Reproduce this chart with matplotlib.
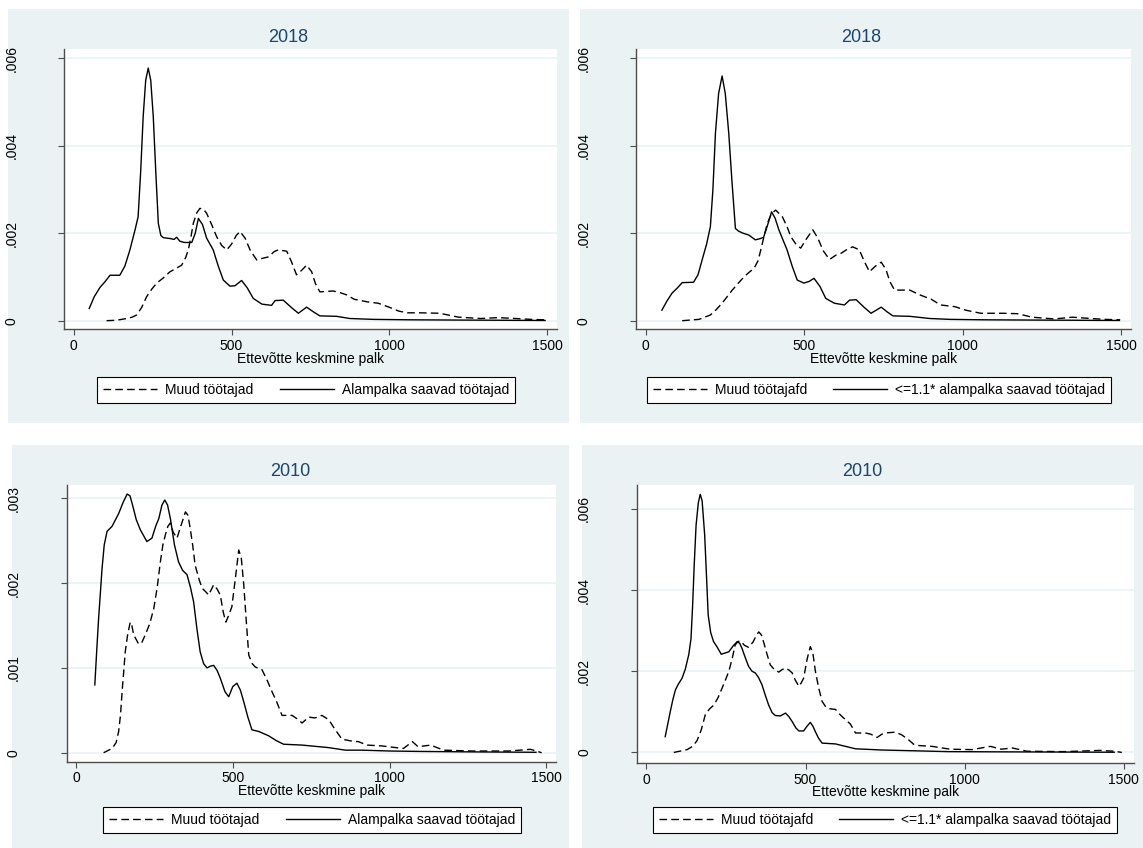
import numpy as np
import matplotlib
matplotlib.use("Agg")
import matplotlib.pyplot as plt
from matplotlib.patches import Rectangle

plt.rcParams['font.family'] = ['Liberation Sans', 'DejaVu Sans']

# Kernel density curves (y in units of 1e-3)
# 2018, minimum wage earners vs others
tl_solid_x = [49, 65, 83, 100, 115, 146, 162, 178, 195, 204, 212, 220, 228, 236, 244, 252, 260, 268, 276, 284,
              305, 318, 326, 336, 350, 374, 385, 395, 408, 421, 442, 458, 474, 495, 511, 532, 550, 569, 596, 627,
              638, 664, 690, 712, 738, 760, 780, 833, 875, 950, 1068, 1200, 1350, 1494]
tl_solid_y = [0.28, 0.55, 0.76, 0.9, 1.04, 1.04, 1.25, 1.62, 2.1, 2.38, 3.4, 4.67, 5.5, 5.78, 5.5, 4.67, 3.4, 2.23, 1.95, 1.9,
              1.88, 1.86, 1.91, 1.82, 1.79, 1.79, 2.0, 2.34, 2.2, 1.89, 1.62, 1.25, 0.93, 0.79, 0.8, 0.92, 0.75, 0.51, 0.38, 0.35,
              0.46, 0.47, 0.3, 0.17, 0.31, 0.2, 0.11, 0.1, 0.05, 0.03, 0.02, 0.015, 0.01, 0.005]
tl_dash_x = [104, 135, 168, 185, 199, 215, 231, 247, 263, 284, 305, 325, 342, 355, 363, 371, 379, 390, 400, 411,
             421, 437, 453, 469, 485, 500, 515, 527, 543, 560, 580, 600, 617, 635, 648, 675, 690, 706, 722, 738,
             754, 766, 780, 800, 822, 845, 865, 889, 931, 965, 999, 1030, 1057, 1100, 1160, 1220, 1290, 1345, 1400, 1450, 1494]
tl_dash_y = [0, 0.01, 0.05, 0.08, 0.13, 0.3, 0.55, 0.72, 0.86, 0.98, 1.12, 1.2, 1.27, 1.45, 1.62, 1.9, 2.23, 2.47, 2.57, 2.55,
             2.46, 2.2, 1.92, 1.72, 1.62, 1.75, 1.95, 2.04, 1.89, 1.6, 1.39, 1.43, 1.46, 1.58, 1.62, 1.59, 1.35, 1.05, 1.15, 1.27,
             1.12, 0.85, 0.66, 0.67, 0.68, 0.64, 0.59, 0.49, 0.43, 0.40, 0.31, 0.22, 0.18, 0.18, 0.17, 0.08, 0.05, 0.07, 0.05, 0.03, 0.02]

# 2018, <=1.1 * minimum wage
tr_solid_x = [51, 67, 83, 100, 115, 151, 165, 178, 192, 204, 212, 220, 230, 241, 251, 262, 272, 283, 293, 304,
              325, 346, 362, 372, 385, 397, 408, 420, 446, 462, 478, 499, 516, 531, 550, 568, 595, 627, 643, 664,
              690, 711, 743, 762, 780, 833, 896, 960, 1070, 1200, 1350, 1494]
tr_solid_y = [0.24, 0.45, 0.63, 0.75, 0.87, 0.88, 1.05, 1.39, 1.75, 2.15, 3.0, 4.29, 5.2, 5.6, 5.2, 4.29, 3.2, 2.11, 2.05, 2.01,
              1.96, 1.85, 1.88, 1.91, 2.2, 2.49, 2.35, 2.08, 1.62, 1.25, 0.93, 0.86, 0.9, 0.97, 0.78, 0.51, 0.40, 0.36, 0.47, 0.48,
              0.3, 0.17, 0.31, 0.2, 0.11, 0.1, 0.05, 0.03, 0.02, 0.015, 0.01, 0.005]
tr_dash_x = [115, 168, 204, 222, 241, 257, 273, 291, 310, 325, 342, 355, 363, 374, 384, 397, 410, 431, 446, 458,
             474, 489, 505, 527, 543, 560, 580, 600, 616, 635, 653, 674, 690, 706, 725, 743, 758, 770, 785, 833,
             865, 901, 930, 976, 1010, 1057, 1126, 1173, 1219, 1289, 1346, 1404, 1450, 1497]
tr_dash_y = [0, 0.03, 0.13, 0.25, 0.4, 0.55, 0.7, 0.85, 1.0, 1.1, 1.2, 1.38, 1.62, 1.95, 2.23, 2.45, 2.53, 2.38, 2.15, 1.92,
             1.75, 1.66, 1.85, 2.08, 1.89, 1.6, 1.4, 1.5, 1.54, 1.63, 1.69, 1.62, 1.35, 1.12, 1.25, 1.34, 1.17, 0.9, 0.7, 0.7,
             0.59, 0.49, 0.36, 0.32, 0.24, 0.17, 0.17, 0.16, 0.08, 0.04, 0.08, 0.05, 0.03, 0.02]

# 2010, minimum wage earners vs others
bl_solid_x = [60, 66, 72, 78, 83, 90, 99, 115, 136, 150, 163, 172, 179, 192, 205, 226, 242, 255, 264, 274,
              283, 292, 301, 314, 327, 340, 354, 365, 375, 386, 396, 407, 418, 428, 439, 450, 460, 475, 487, 500,
              513, 524, 535, 548, 561, 583, 614, 640, 662, 721, 806, 859, 912, 1000, 1100, 1250, 1467]
bl_solid_y = [0.8, 1.2, 1.58, 1.9, 2.17, 2.45, 2.61, 2.67, 2.82, 2.95, 3.05, 3.03, 2.94, 2.75, 2.63, 2.49, 2.53, 2.68, 2.76, 2.92,
              2.98, 2.92, 2.76, 2.45, 2.25, 2.15, 2.1, 1.95, 1.78, 1.45, 1.19, 1.05, 1.0, 1.02, 1.03, 0.97, 0.88, 0.72, 0.66, 0.78,
              0.82, 0.74, 0.6, 0.42, 0.27, 0.25, 0.2, 0.14, 0.1, 0.09, 0.06, 0.03, 0.03, 0.02, 0.015, 0.01, 0.005]
bl_dash_x = [88, 115, 128, 136, 142, 147, 152, 157, 165, 173, 178, 184, 200, 210, 221, 235, 248, 259, 269, 277,
             285, 293, 301, 310, 322, 335, 349, 357, 364, 372, 380, 392, 402, 413, 423, 431, 439, 450, 460, 470,
             478, 489, 497, 508, 519, 527, 535, 543, 551, 562, 572, 593, 610, 625, 640, 657, 689, 705, 721, 742,
             762, 784, 806, 825, 848, 875, 901, 928, 975, 1020, 1044, 1073, 1091, 1131, 1172, 1265, 1380, 1450, 1485]
bl_dash_y = [0, 0.05, 0.12, 0.25, 0.45, 0.72, 0.95, 1.19, 1.4, 1.54, 1.5, 1.39, 1.28, 1.3, 1.39, 1.52, 1.7, 1.95, 2.25, 2.45,
             2.57, 2.67, 2.71, 2.6, 2.53, 2.68, 2.84, 2.8, 2.65, 2.45, 2.21, 2.05, 1.94, 1.9, 1.86, 1.92, 1.98, 1.93, 1.86, 1.65,
             1.54, 1.64, 1.72, 2.05, 2.39, 2.3, 1.98, 1.55, 1.15, 1.05, 1.01, 0.98, 0.85, 0.72, 0.6, 0.44, 0.44, 0.4, 0.35, 0.42,
             0.41, 0.44, 0.39, 0.28, 0.16, 0.14, 0.13, 0.09, 0.08, 0.06, 0.05, 0.13, 0.07, 0.09, 0.03, 0.02, 0.02, 0.04, 0.0]

# 2010, <=1.1 * minimum wage
br_solid_x = [59, 67, 75, 83, 91, 100, 112, 122, 133, 140, 145, 150, 156, 163, 169, 175, 183, 189, 194, 202,
              211, 222, 235, 247, 259, 272, 285, 293, 300, 310, 321, 332, 342, 352, 363, 374, 384, 395, 405, 421,
              437, 448, 458, 470, 479, 494, 505, 515, 523, 531, 541, 552, 594, 636, 657, 740, 845, 950, 1100, 1300, 1470]
br_solid_y = [0.39, 0.7, 1.01, 1.3, 1.54, 1.68, 1.83, 2.05, 2.41, 2.8, 3.6, 4.6, 5.6, 6.15, 6.36, 6.2, 5.36, 4.3, 3.39, 2.95,
              2.73, 2.6, 2.42, 2.45, 2.48, 2.62, 2.73, 2.69, 2.57, 2.35, 2.12, 2.0, 1.96, 1.85, 1.67, 1.4, 1.17, 0.98, 0.91, 0.9,
              0.97, 0.88, 0.76, 0.6, 0.53, 0.53, 0.65, 0.74, 0.65, 0.51, 0.35, 0.23, 0.21, 0.13, 0.09, 0.06, 0.04, 0.02, 0.015, 0.01, 0.005]
br_dash_x = [86, 128, 145, 159, 172, 185, 198, 212, 225, 238, 249, 259, 269, 279, 287, 295, 308, 321, 335, 345,
             353, 361, 369, 379, 389, 402, 416, 426, 437, 448, 458, 468, 479, 487, 494, 505, 515, 523, 531, 541,
             552, 562, 573, 594, 610, 625, 641, 657, 688, 705, 725, 740, 751, 782, 803, 824, 840, 856, 898, 954,
             1023, 1081, 1115, 1150, 1196, 1310, 1425, 1471, 1494]
br_dash_y = [0, 0.07, 0.15, 0.29, 0.55, 0.93, 1.07, 1.17, 1.35, 1.59, 1.8, 2.0, 2.3, 2.65, 2.73, 2.75, 2.64, 2.59, 2.72, 2.88,
             2.97, 2.9, 2.7, 2.42, 2.16, 2.04, 1.98, 2.04, 2.08, 2.03, 1.96, 1.78, 1.63, 1.72, 1.83, 2.3, 2.61, 2.45, 2.0, 1.6,
             1.26, 1.14, 1.08, 1.06, 0.92, 0.81, 0.7, 0.48, 0.48, 0.45, 0.37, 0.45, 0.48, 0.5, 0.43, 0.31, 0.2, 0.17, 0.15, 0.08,
             0.07, 0.15, 0.08, 0.11, 0.03, 0.02, 0.05, 0.03, 0.0]

x_ticks = [0, 500, 1000, 1500]
xlabel = "Ettevõtte keskmine palk"
titles = ["2018", "2018", "2010", "2010"]
labels_a = ["Muud töötajad", "Alampalka saavad töötajad"]
labels_b = ["Muud töötajafd", "<=1.1* alampalka saavad töötajad"]
yticks_small = [0, 0.002, 0.004, 0.006]
ytick_lbl_small = ["0", ".002", ".004", ".006"]
yticks_big = [0, 0.001, 0.002, 0.003]
ytick_lbl_big = ["0", ".001", ".002", ".003"]

W, H = 1143, 848
BG = "#EAF2F3"
TITLE_C = "#1A476F"
AXIS_C = "#4d4d4d"

fig = plt.figure(figsize=(W / 100, H / 100), dpi=100)

def frac(l, t, r, b):
    return [l / W, 1 - b / H, (r - l) / W, (b - t) / H]

# panel: background box, axes box (pixels), ylim, yticks, legend centre, data
panels = [
    dict(bg=(8, 9, 569, 423), ax=(64.3, 49.3, 557.1, 329.3), ylim=(-0.000197, 0.00621),
         yt=yticks_small, ytl=ytick_lbl_small, leg=(306, 390), labels=labels_a, title=titles[0],
         sx=tl_solid_x, sy=tl_solid_y, dx=tl_dash_x, dy=tl_dash_y),
    dict(bg=(580, 9, 1143, 423), ax=(636.2, 49.3, 1131.3, 329.3), ylim=(-0.000197, 0.00621),
         yt=yticks_small, ytl=ytick_lbl_small, leg=(879, 390), labels=labels_b, title=titles[1],
         sx=tr_solid_x, sy=tr_solid_y, dx=tr_dash_x, dy=tr_dash_y),
    dict(bg=(12, 445, 569, 848), ax=(66.6, 485, 556.4, 761.7), ylim=(-0.000106, 0.003157),
         yt=yticks_big, ytl=ytick_lbl_big, leg=(312, 820), labels=labels_a, title=titles[2],
         sx=bl_solid_x, sy=bl_solid_y, dx=bl_dash_x, dy=bl_dash_y),
    dict(bg=(582, 445, 1143, 848), ax=(636.9, 485, 1133.9, 763), ylim=(-0.00026, 0.00659),
         yt=yticks_small, ytl=ytick_lbl_small, leg=(885, 820), labels=labels_b, title=titles[3],
         sx=br_solid_x, sy=br_solid_y, dx=br_dash_x, dy=br_dash_y),
]

for p in panels:
    l, t, r, b = p["bg"]
    # graph region background, kept behind the axes
    fig.patches.append(Rectangle((l / W, 1 - b / H), (r - l) / W, (b - t) / H,
                                 transform=fig.transFigure, facecolor=BG, edgecolor="none", zorder=-5))
    fig.text((l + r) / 2 / W, 1 - 37 / H if t < 100 else 1 - 471 / H, p["title"],
             ha="center", va="center", fontsize=13, color=TITLE_C)

    ax = fig.add_axes(frac(*p["ax"]))
    ax.set_zorder(2)
    ax.set_facecolor("white")
    dash, = ax.plot(p["dx"], np.array(p["dy"]) * 1e-3, color="black", lw=1.0, dashes=(5.5, 3))
    solid, = ax.plot(p["sx"], np.array(p["sy"]) * 1e-3, color="black", lw=1.0)

    ax.set_xlim(-30, 1532)
    ax.set_ylim(*p["ylim"])
    ax.set_xticks(x_ticks)
    ax.set_xticklabels([str(v) for v in x_ticks], fontsize=10)
    ax.set_yticks(p["yt"])
    ax.set_yticklabels(p["ytl"], fontsize=10, rotation=90, va="center")
    ax.grid(axis="y", color=BG, lw=1.2)
    ax.set_axisbelow(True)
    for s in ["top", "right"]:
        ax.spines[s].set_visible(False)
    for s in ["left", "bottom"]:
        ax.spines[s].set_color(AXIS_C)
        ax.spines[s].set_linewidth(1.0)
    ax.tick_params(axis="x", length=4, color=AXIS_C, pad=3)
    ax.tick_params(axis="y", length=4, color=AXIS_C, pad=29)
    ax.set_xlabel(xlabel, fontsize=10, labelpad=-1)

    cx, cy = p["leg"]
    leg = ax.legend([dash, solid], p["labels"], loc="center", bbox_to_anchor=(cx / W, 1 - cy / H),
                    bbox_transform=fig.transFigure, ncol=2, fontsize=10, frameon=True, fancybox=False,
                    edgecolor="black", framealpha=1, handlelength=3.9, handletextpad=0.55,
                    columnspacing=1.9, borderpad=0.45)
    leg.get_frame().set_linewidth(0.8)

fig.savefig("out.png", dpi=100)
